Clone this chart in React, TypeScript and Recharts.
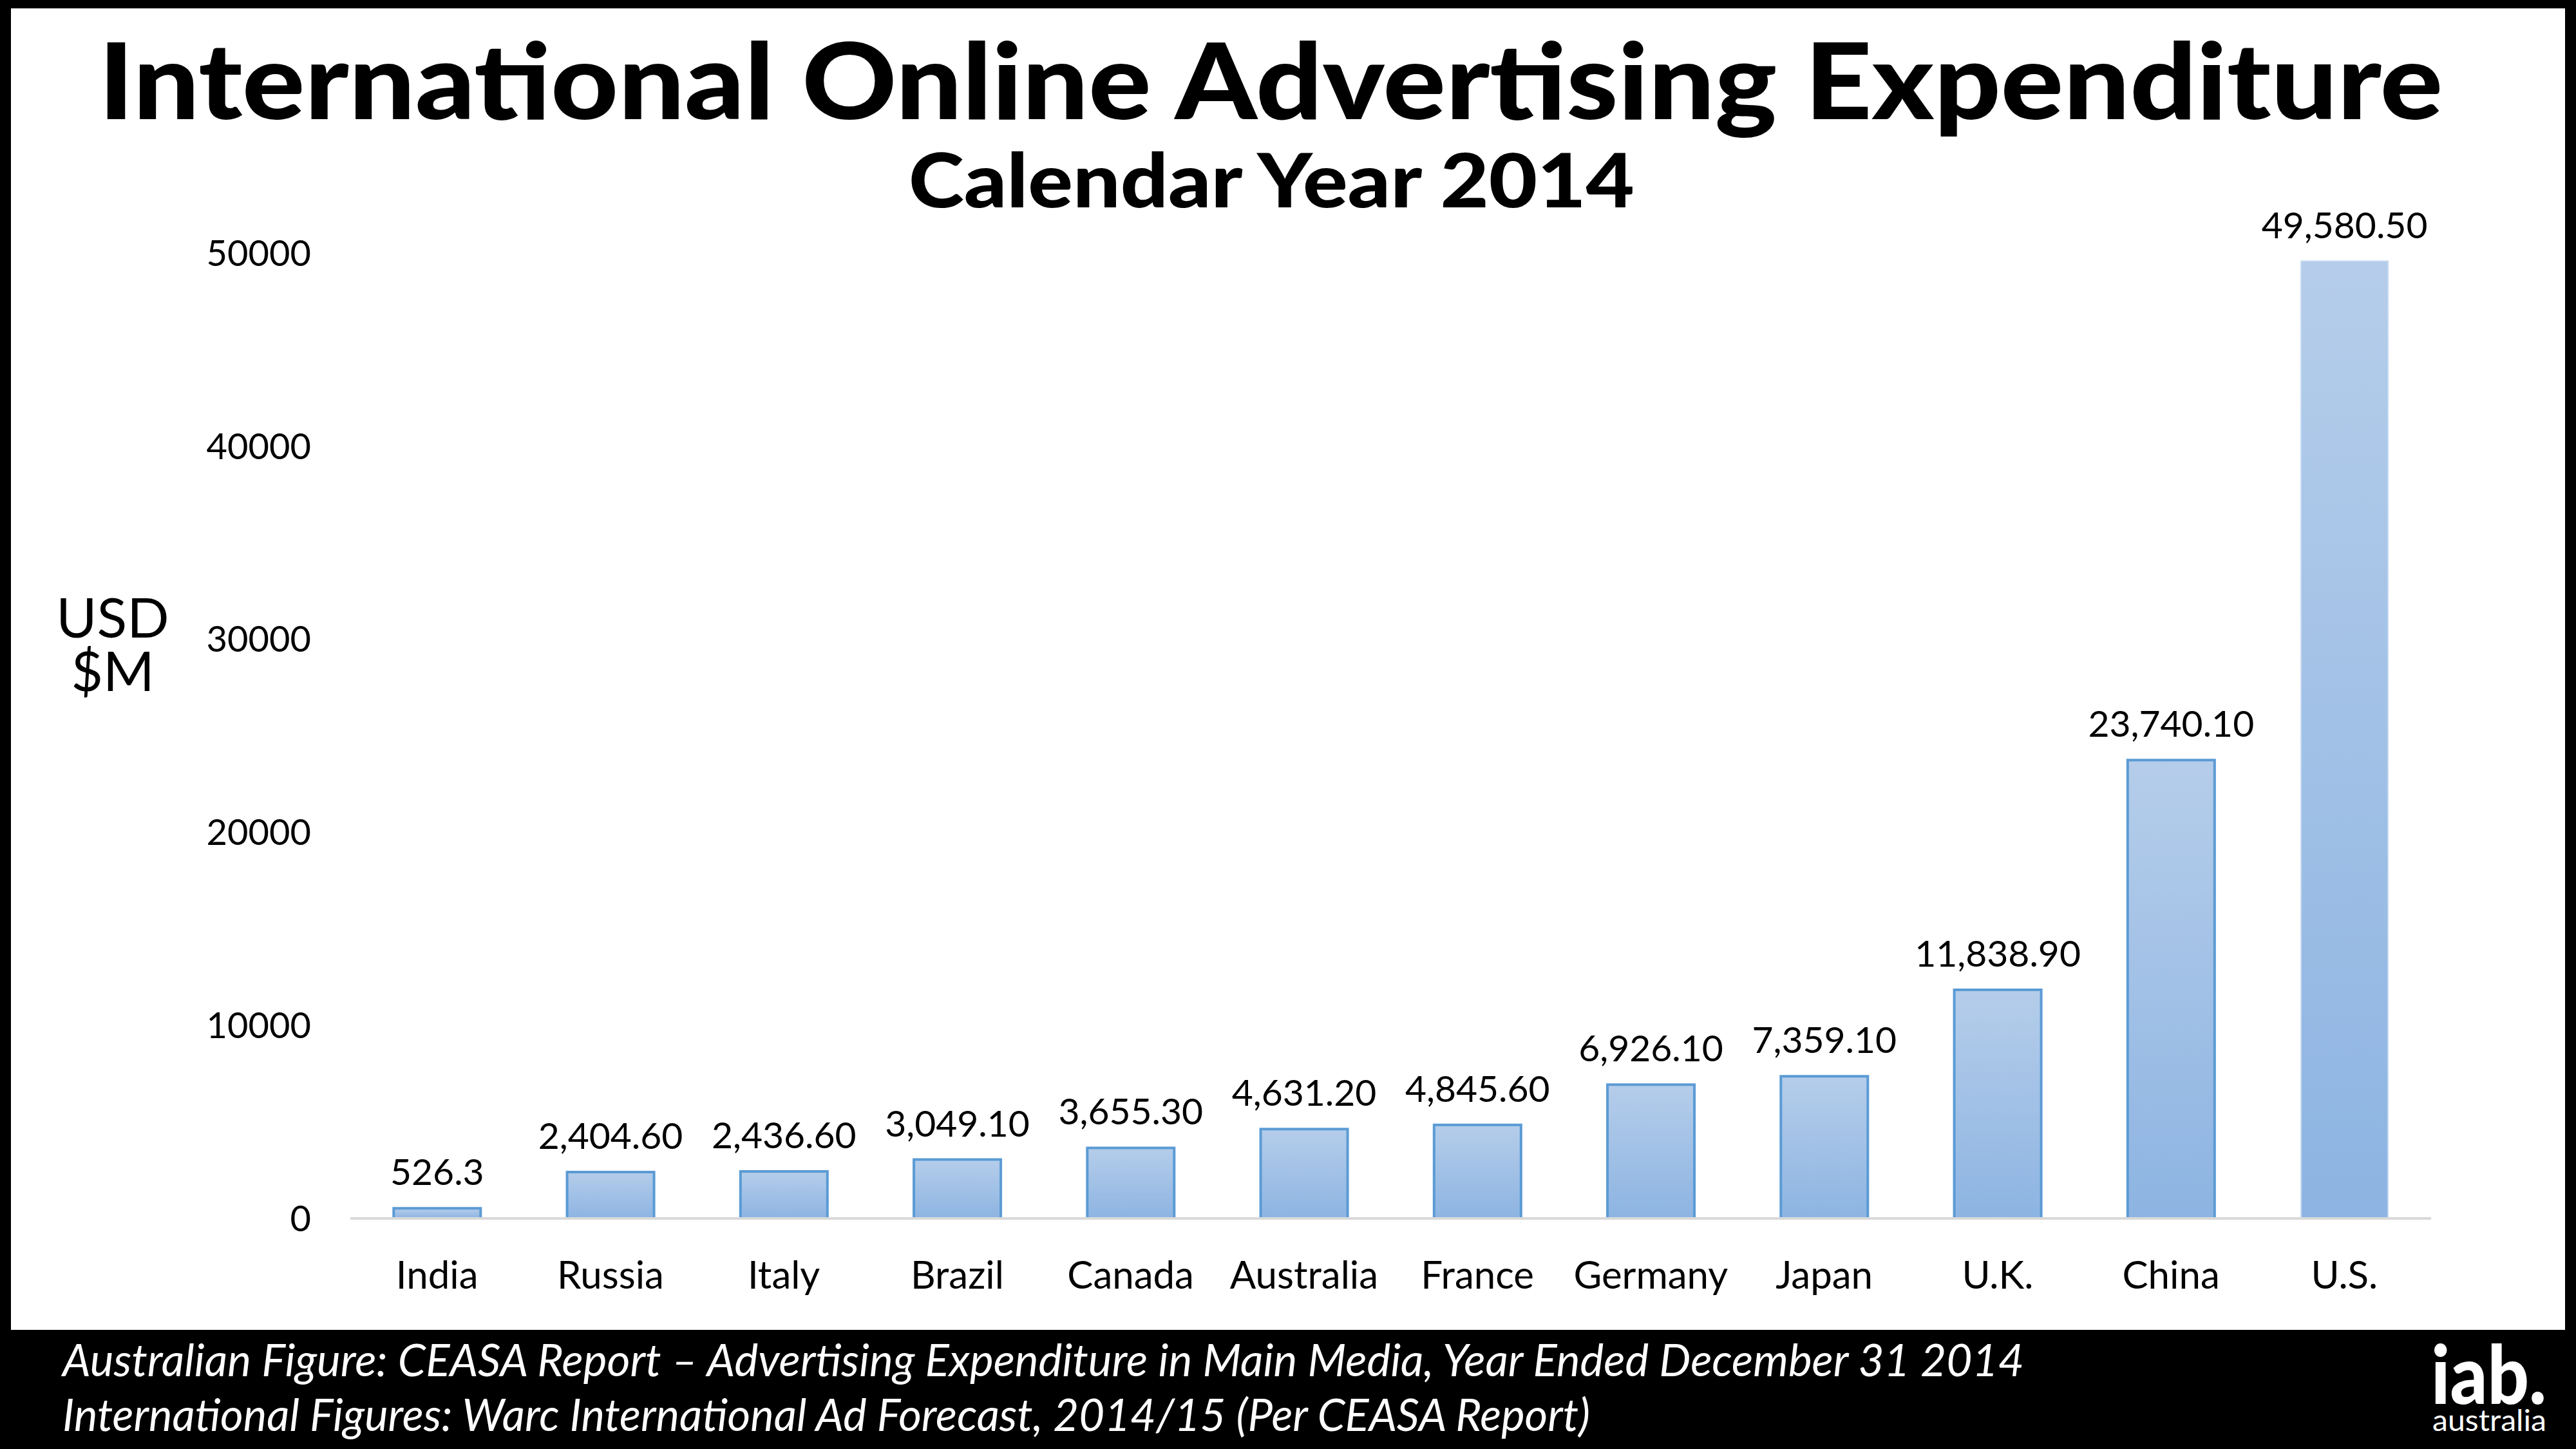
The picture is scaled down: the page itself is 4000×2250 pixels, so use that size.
import React from 'react';
import { BarChart, Bar, XAxis, YAxis, LabelList, Cell } from 'recharts';

const countries = ['India', 'Russia', 'Italy', 'Brazil', 'Canada', 'Australia', 'France', 'Germany', 'Japan', 'U.K.', 'China', 'U.S.'];
const spend = [526.3, 2404.6, 2436.6, 3049.1, 3655.3, 4631.2, 4845.6, 6926.1, 7359.1, 11838.9, 23740.1, 49580.5];
const valueLabels = ['526.3', '2,404.60', '2,436.60', '3,049.10', '3,655.30', '4,631.20', '4,845.60', '6,926.10', '7,359.10', '11,838.90', '23,740.10', '49,580.50'];
const yTicks = [0, 10000, 20000, 30000, 40000, 50000];

const title = 'International Online Advertising Expenditure';
const subtitle = 'Calendar Year 2014';
const axisTitleLines = ['USD', '$M'];
const footerLines = [
  'Australian Figure: CEASA Report \u2013 Advertising Expenditure in Main Media, Year Ended December 31 2014',
  'International Figures: Warc International Ad Forecast, 2014/15 (Per CEASA Report)',
];

const data = countries.map((c, i) => ({ country: c, value: spend[i], label: valueLabels[i] }));

const FONT = "Lato, 'DejaVu Sans', sans-serif";

export default function App() {
  return (
    <div style={{ position: 'absolute', left: 0, top: 0, width: 4000, height: 2250, background: '#000', overflow: 'hidden' }}>
      <div style={{ position: 'absolute', left: 17, top: 13, width: 3966, height: 2052, background: '#fff' }} />
      <div style={{ position: 'absolute', left: 0, top: 0 }}>
        <BarChart
          width={4000}
          height={2250}
          data={data}
          margin={{ top: 393, right: 225, bottom: 328, left: 444 }}
          barCategoryGap="25%"
        >
          <defs>
            <linearGradient id="barGrad" x1="0" y1="0" x2="0" y2="1">
              <stop offset="0%" stopColor="#b5cdea" />
              <stop offset="100%" stopColor="#8db4e2" />
            </linearGradient>
          </defs>
          <XAxis
            dataKey="country"
            height={30}
            axisLine={{ stroke: '#d9d9d9', strokeWidth: 4 }}
            tickLine={false}
            tickSize={0}
            tickMargin={66}
            interval={0}
            tick={{ fill: '#000', fontSize: 60, fontFamily: FONT }}
          />
          <YAxis
            width={100}
            domain={[0, 50000]}
            ticks={yTicks}
            axisLine={false}
            tickLine={false}
            tickSize={0}
            tickMargin={61}
            tick={{ fill: '#000', fontSize: 56, fontFamily: FONT }}
          />
          <Bar dataKey="value" fill="url(#barGrad)" isAnimationActive={false}>
            {data.map((d, i) => (
              <Cell
                key={d.country}
                stroke={i === data.length - 1 ? '#c6daf1' : '#5b9bd5'}
                strokeWidth={i === data.length - 1 ? 2 : 4}
              />
            ))}
            <LabelList dataKey="label" position="top" offset={36} fill="#000" fontSize={57} fontFamily={FONT} />
          </Bar>
        </BarChart>
      </div>
      <svg width={4000} height={2250} style={{ position: 'absolute', left: 0, top: 0, pointerEvents: 'none' }}>
        <text x={153} y={185} fontFamily={FONT} fontWeight={900} fontSize={164} fill="#000" textLength={3640} lengthAdjust="spacingAndGlyphs">
          {title}
        </text>
        <text x={1411} y={322} fontFamily={FONT} fontWeight={900} fontSize={116} fill="#000" textLength={1127} lengthAdjust="spacingAndGlyphs">
          {subtitle}
        </text>
        <text textAnchor="middle" fontFamily={FONT} fontSize={86} fill="#000">
          <tspan x={175} y={990}>{axisTitleLines[0]}</tspan>
          <tspan x={175} y={1073}>{axisTitleLines[1]}</tspan>
        </text>
        <text x={97} y={2137} fontFamily={FONT} fontStyle="italic" fontSize={70} fill="#fff" textLength={3046} lengthAdjust="spacingAndGlyphs">
          {footerLines[0]}
        </text>
        <text x={97} y={2222} fontFamily={FONT} fontStyle="italic" fontSize={70} fill="#fff" textLength={2372} lengthAdjust="spacingAndGlyphs">
          {footerLines[1]}
        </text>
        <text fontFamily={FONT} fill="#fff">
          <tspan x={3775} y={2180} fontWeight={900} fontSize={125} textLength={179} lengthAdjust="spacingAndGlyphs">iab.</tspan>
          <tspan x={3777} y={2222} fontWeight={400} fontSize={46} textLength={177} lengthAdjust="spacingAndGlyphs">australia</tspan>
        </text>
      </svg>
    </div>
  );
}
